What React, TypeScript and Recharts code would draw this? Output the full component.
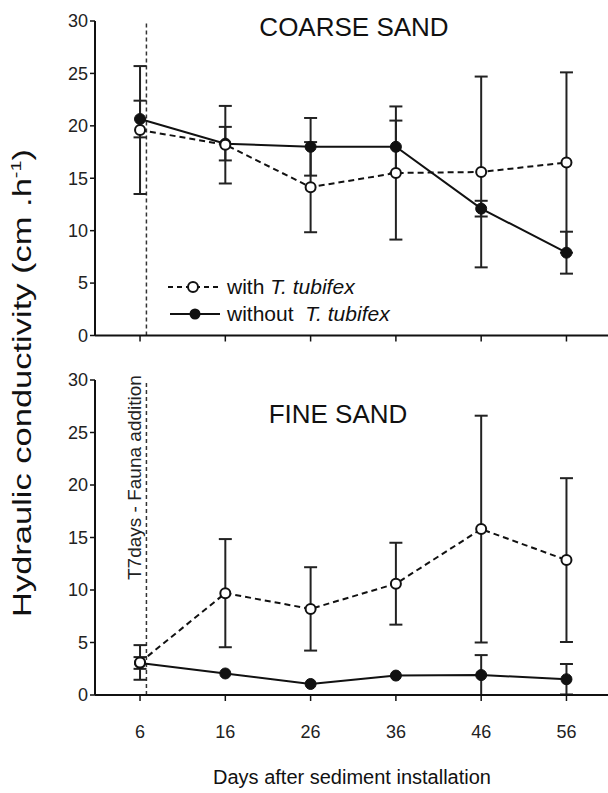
import React from "react";
import {
  LineChart,
  Line,
  XAxis,
  YAxis,
  ErrorBar,
  ReferenceLine,
  Legend,
} from "recharts";

const days = [6, 16, 26, 36, 46, 56];
const yTicks = [0, 5, 10, 15, 20, 25, 30];

// coarse sand
const coarseWith = [19.6, 18.2, 14.15, 15.5, 15.6, 16.5];
const coarseWithErr = [6.1, 3.7, 4.3, 6.35, 9.1, 8.6];
const coarseWithout = [20.65, 18.3, 18.0, 18.0, 12.1, 7.9];
const coarseWithoutErr = [1.75, 1.6, 2.75, 2.5, 0.75, 2.0];

// fine sand
const fineWith = [3.1, 9.7, 8.2, 10.6, 15.8, 12.85];
const fineWithErr = [1.65, 5.15, 3.97, 3.9, 10.8, 7.8];
const fineWithout = [3.05, 2.05, 1.05, 1.85, 1.9, 1.5];
const fineWithoutErr = [0.56, 0, 0, 0, 1.9, 1.45];

const FAUNA_DAY = 6.75;
const FONT = "'Liberation Sans', Arial, Helvetica, sans-serif";

const makeRows = (w: number[], we: number[], wo: number[], woe: number[]) =>
  days.map((d, i) => ({
    day: d,
    with: w[i],
    withErr: we[i],
    without: wo[i],
    withoutErr: woe[i],
  }));

const coarseData = makeRows(coarseWith, coarseWithErr, coarseWithout, coarseWithoutErr);
const fineData = makeRows(fineWith, fineWithErr, fineWithout, fineWithoutErr);

const renderLegend = () => (
  <svg width={240} height={60} style={{ overflow: "visible" }}>
    <line x1={8} y1={15} x2={60} y2={15} stroke="#111" strokeWidth={2} strokeDasharray="5 4" />
    <circle cx={33} cy={15} r={5} fill="#fff" stroke="#111" strokeWidth={2} />
    <text x={67} y={22} fontSize={21} fontFamily={FONT} fill="#111">
      with <tspan fontStyle="italic">T. tubifex</tspan>
    </text>
    <line x1={10} y1={42} x2={60} y2={42} stroke="#111" strokeWidth={2} />
    <circle cx={35} cy={42} r={5.5} fill="#111" />
    <text x={67} y={49} fontSize={21} fontFamily={FONT} fill="#111" xmlSpace="preserve">
      without  <tspan fontStyle="italic">T. tubifex</tspan>
    </text>
  </svg>
);

const Panel = ({
  data,
  height,
  marginTop,
  marginBottom,
  xAxisHeight,
  showLabels,
  showLegend,
}: {
  data: any[];
  height: number;
  marginTop: number;
  marginBottom: number;
  xAxisHeight: number;
  showLabels: boolean;
  showLegend: boolean;
}) => (
  <LineChart
    width={608}
    height={height}
    data={data}
    margin={{ top: marginTop, right: 0, bottom: marginBottom, left: 45 }}
  >
    <XAxis
      type="number"
      dataKey="day"
      domain={[0.72, 60.87]}
      ticks={days}
      allowDataOverflow
      height={xAxisHeight}
      axisLine={{ stroke: "#111", strokeWidth: 2 }}
      tickLine={{ stroke: "#111", strokeWidth: 1.5 }}
      tickSize={6}
      tickMargin={24}
      tick={showLabels ? { fontSize: 18, fill: "#222", fontFamily: FONT } : () => <g />}
    />
    <YAxis
      type="number"
      domain={[0, 30]}
      ticks={yTicks}
      width={50}
      axisLine={{ stroke: "#111", strokeWidth: 2 }}
      tickLine={{ stroke: "#111", strokeWidth: 1.5 }}
      tickSize={5}
      tick={{ fontSize: 18, fill: "#222", fontFamily: FONT }}
    />
    <ReferenceLine
      x={FAUNA_DAY}
      stroke="#333"
      strokeWidth={1.5}
      strokeDasharray="4 3"
    />
    <Line
      dataKey="without"
      stroke="#111"
      strokeWidth={2}
      isAnimationActive={false}
      dot={{ r: 5.5, fill: "#111", stroke: "#111", strokeWidth: 1 }}
      activeDot={false}
    >
      <ErrorBar dataKey="withoutErr" width={6.5} stroke="#222" strokeWidth={2} direction="y" />
    </Line>
    <Line
      dataKey="with"
      stroke="#111"
      strokeWidth={2}
      strokeDasharray="6 4"
      isAnimationActive={false}
      dot={{ r: 5, fill: "#fff", stroke: "#111", strokeWidth: 2, strokeDasharray: "" }}
      activeDot={false}
    >
      <ErrorBar dataKey="withErr" width={6.5} stroke="#222" strokeWidth={2} direction="y" />
    </Line>
    {showLegend && (
      <Legend
        layout="vertical"
        align="center"
        verticalAlign="middle"
        content={renderLegend}
        wrapperStyle={{ position: "absolute", left: 160, top: 272, width: 240, height: 60 }}
      />
    )}
  </LineChart>
);

export default function App() {
  return (
    <div style={{ position: "absolute", left: 0, top: 0, width: 608, height: 793, background: "#fff" }}>
      <div style={{ position: "absolute", left: 0, top: 0 }}>
        <Panel
          data={coarseData}
          height={360}
          marginTop={21}
          marginBottom={14.5}
          xAxisHeight={10}
          showLabels={false}
          showLegend
        />
      </div>
      <div style={{ position: "absolute", left: 0, top: 360 }}>
        <Panel
          data={fineData}
          height={433}
          marginTop={20}
          marginBottom={48}
          xAxisHeight={50}
          showLabels
          showLegend={false}
        />
      </div>
      <svg
        width={608}
        height={793}
        style={{ position: "absolute", left: 0, top: 0, pointerEvents: "none" }}
      >
        <text x={354} y={36} fontSize={26} textAnchor="middle" fontFamily={FONT} fill="#111">
          COARSE SAND
        </text>
        <text x={338} y={423} fontSize={26} textAnchor="middle" fontFamily={FONT} fill="#111">
          FINE SAND
        </text>
        <text
          transform="translate(141, 580) rotate(-90)"
          fontSize={19}
          fontFamily={FONT}
          fill="#222"
        >
          T7days - Fauna addition
        </text>
        <text
          transform="translate(31, 383) rotate(-90)"
          fontSize={26}
          textAnchor="middle"
          fontFamily={FONT}
          fill="#111"
          textLength={468}
          lengthAdjust="spacingAndGlyphs"
        >
          Hydraulic conductivity (cm .h<tspan fontSize={15} dy={-10}>-1</tspan>
          <tspan dy={10}>)</tspan>
        </text>
        <text x={352} y={784} fontSize={20} textAnchor="middle" fontFamily={FONT} fill="#111">
          Days after sediment installation
        </text>
      </svg>
    </div>
  );
}
